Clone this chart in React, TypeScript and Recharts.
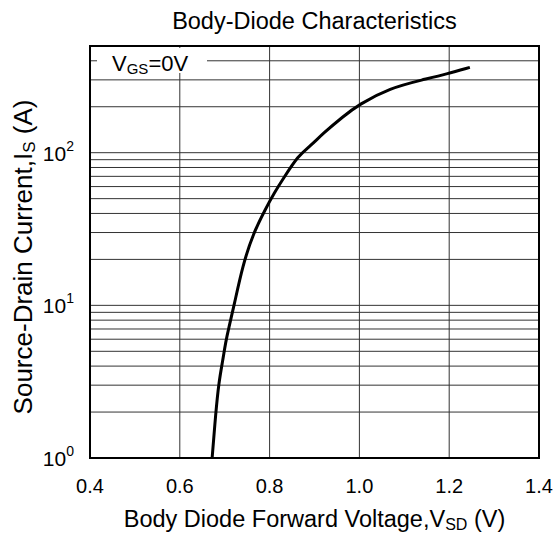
import { LineChart, Line, XAxis, YAxis, CartesianGrid, ReferenceArea } from "recharts";

// forward voltage (V) vs source-drain current (A)
const voltage = [0.672, 0.68, 0.687, 0.696, 0.702, 0.709, 0.721, 0.74, 0.764, 0.79, 0.811, 0.83, 0.864, 0.89, 0.92, 0.964, 0.998, 1.068, 1.142, 1.194, 1.246];
const current = [1, 1.97, 3.15, 4.4, 5.72, 7.11, 10, 18.3, 29.8, 42.3, 54.9, 67.3, 96, 110, 134.6, 172.9, 206.3, 265.4, 300.8, 327.8, 362.1];

const xTicks = [0.4, 0.6, 0.8, 1.0, 1.2, 1.4];
const yTicks = [1, 2, 3, 4, 5, 6, 7, 8, 9, 10, 20, 30, 40, 50, 60, 70, 80, 90, 100, 200, 300, 400, 500];
const yLabelTicks = [1, 10, 100];

const W = 557;
const H = 534;
const FONT = "'Liberation Sans', Arial, sans-serif";

const data = voltage.map((v, i) => ({ v, i: current[i] }));

function XTick({ x, y, payload }: any) {
  return (
    <text x={x} y={y + 35} textAnchor="middle" fontSize={20} fontFamily={FONT} fill="#000">
      {Number(payload.value).toFixed(1)}
    </text>
  );
}

function YTick({ x, y, payload }: any) {
  const idx = yLabelTicks.indexOf(payload.value);
  if (idx < 0) return <g />;
  return (
    <text x={x - 16} y={y + 8} textAnchor="end" fontSize={21} fontFamily={FONT} fill="#000">
      10
      <tspan dy={-10} fontSize={14}>{idx}</tspan>
    </text>
  );
}

export default function App() {
  return (
    <div style={{ position: "relative", width: W, height: H, overflow: "hidden" }}>
      <style>{`body { margin: 0; }`}</style>
      <LineChart width={W} height={H} data={data} margin={{ top: 46, right: 18, bottom: 8, left: 0 }}>
        <CartesianGrid stroke="#333" strokeWidth={1} />
        <XAxis
          type="number"
          dataKey="v"
          domain={[0.4, 1.4]}
          ticks={xTicks}
          tick={<XTick />}
          tickLine={false}
          axisLine={false}
          tickSize={0}
          tickMargin={0}
          height={68}
          interval={0}
        />
        <YAxis
          type="number"
          scale="log"
          domain={[1, 500]}
          allowDataOverflow
          ticks={yTicks}
          tick={<YTick />}
          tickLine={false}
          axisLine={false}
          tickSize={0}
          tickMargin={0}
          width={90}
          interval={0}
        />
        <ReferenceArea x1={0.4} x2={1.4} y1={1} y2={500} fill="none" stroke="#000" strokeWidth={2} />
        <Line type="basis" dataKey="i" stroke="#000" strokeWidth={3} dot={false} isAnimationActive={false} />
      </LineChart>
      <svg width={W} height={H} style={{ position: "absolute", left: 0, top: 0, pointerEvents: "none" }} fontFamily={FONT}>
        <text x={314.5} y={29} textAnchor="middle" fontSize={23.5} fill="#000">Body-Diode Characteristics</text>
        <rect x={97} y={48} width={110} height={25} fill="#fff" />
        <text x={112} y={71} fontSize={22} fill="#000">
          V<tspan fontSize={15} dy={3}>GS</tspan><tspan dy={-3}>=0V</tspan>
        </text>
        <text x={314.5} y={527} textAnchor="middle" fontSize={23.5} fill="#000">
          Body Diode Forward Voltage,V<tspan fontSize={16} dy={3}>SD</tspan><tspan dy={-3}> (V)</tspan>
        </text>
        <text transform="translate(32,257) rotate(-90)" textAnchor="middle" fontSize={26} fill="#000">
          Source-Drain Current,I<tspan fontSize={17} dy={3}>S</tspan><tspan dy={-3}> (A)</tspan>
        </text>
      </svg>
    </div>
  );
}
